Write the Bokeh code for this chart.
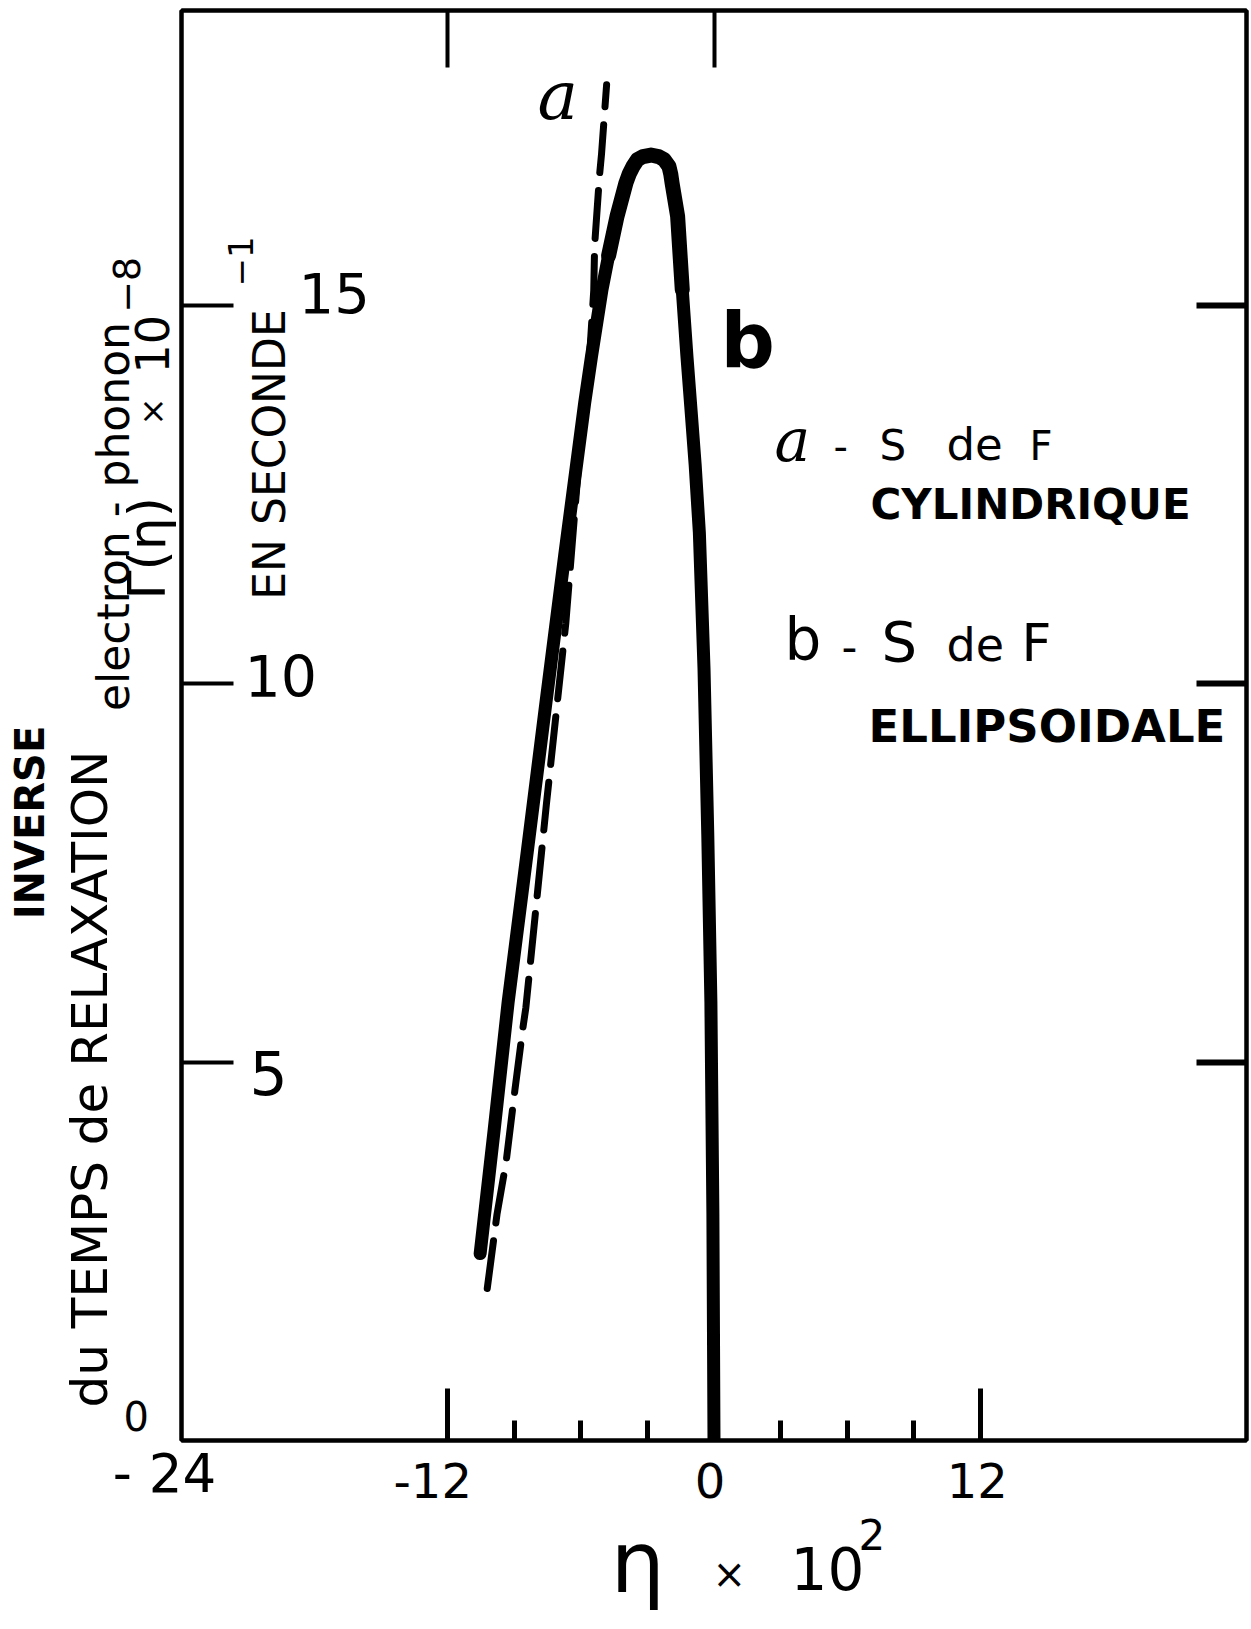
from math import pi
from bokeh.plotting import figure
from bokeh.models import Label, LinearAxis, FixedTicker, Range1d
from bokeh.layouts import row, column
from bokeh.embed import file_html
from bokeh.resources import INLINE

# ---------------- data ----------------
# curve b : S de F ellipsoidale (solid, thick)
eta_b = [-10.54, -9.91, -9.28, -8.43, -7.58, -6.73, -5.83, -5.52, -5.05, -4.75,
         -4.37, -3.97, -3.82, -3.65, -3.45, -3.20, -2.84, -2.50, -2.25, -2.03,
         -1.95, -1.89, -1.64, -1.43, -1.22, -1.03, -0.85, -0.66, -0.45, -0.28,
         -0.14, -0.05, 0.0]
gamma_b = [2.47, 4.10, 5.79, 7.75, 9.74, 11.70, 13.71, 14.33, 15.21, 15.66,
           16.18, 16.62, 16.74, 16.84, 16.93, 16.97, 16.99, 16.97, 16.93, 16.84,
           16.74, 16.62, 16.18, 15.21, 14.33, 13.60, 12.90, 12.00, 10.20, 8.00,
           5.80, 3.00, 0.0]
# curve a : S de F cylindrique (dashed)
eta_a = [-10.22, -9.78, -9.37, -8.97, -8.61, -8.48, -7.55, -6.68, -6.14, -5.58,
         -5.42, -5.38, -5.16, -5.07, -4.84]
gamma_a = [2.01, 2.99, 3.68, 4.64, 5.46, 5.72, 8.42, 10.80, 12.76, 14.46,
           15.20, 15.80, 16.72, 17.00, 17.92]

x_major_ticks = [-12, 12]
x_minor_ticks = [-9, -6, -3, 3, 6, 9]
x_top_ticks = [-12, 0]
y_left_ticks = [5, 10, 15]
y_right_ticks = [5, 10, 15]
x_label_values = [-24, -12, 0, 12]
x_label_texts = ["- 24", "-12", "0", "12"]
y_label_values = [0, 5, 10, 15]
y_label_texts = ["0", "5", "10", "15"]

X_START, X_END = -24, 24
Y_START, Y_END = 0, 18.9

FONT = "DejaVu Sans"
MID = 0.38   # distance (in em) from the alphabetic baseline to the 'middle' anchor

# page geometry of the frame (page pixels)
FL, FR, FT, FB = 181, 1246, 10, 1440
KX = (FR - FL) / (X_END - X_START)
KY = (FB - FT) / (Y_END - Y_START)


def eta_of(X):
    return X_START + (X - FL) / KX


def gam_of(Y):
    return Y_START + (FB - Y) / KY


LEFT_W, MAIN_W, TOP_H, BOT_H = 178, 1072, 1444, 184

# ---------------- main figure ----------------
main = figure(width=MAIN_W, height=TOP_H, x_range=Range1d(X_START, X_END),
              y_range=Range1d(Y_START, Y_END), output_backend="svg",
              toolbar_location=None, min_border_left=FL - LEFT_W,
              min_border_right=LEFT_W + MAIN_W - FR, min_border_top=FT,
              min_border_bottom=TOP_H - FB)
main.xgrid.visible = False
main.ygrid.visible = False
main.background_fill_color = "white"
main.border_fill_color = "white"
main.outline_line_color = "black"
main.outline_line_width = 4


def style_axis(ax, major, tick_in, lw, minor=None, minor_in=0):
    ax.ticker = FixedTicker(ticks=major, minor_ticks=minor or [])
    ax.major_tick_in = tick_in
    ax.major_tick_out = 0
    ax.minor_tick_in = minor_in
    ax.minor_tick_out = 0
    ax.major_tick_line_width = lw
    ax.minor_tick_line_width = lw
    ax.major_tick_line_color = "black"
    ax.minor_tick_line_color = "black"
    ax.axis_line_width = 4
    ax.axis_line_color = "black"
    ax.major_label_text_color = None
    ax.major_label_text_font_size = "0px"
    ax.major_label_standoff = 0
    ax.axis_label = None


style_axis(main.xaxis[0], x_major_ticks, 52, 5, x_minor_ticks, 20)
style_axis(main.yaxis[0], [], 0, 4, y_left_ticks, 52)
top_ax = LinearAxis()
style_axis(top_ax, [], 0, 4, x_top_ticks, 57)
main.add_layout(top_ax, "above")
right_ax = LinearAxis()
style_axis(right_ax, [], 0, 6, y_right_ticks, 50)
main.add_layout(right_ax, "right")

main.line(eta_a, gamma_a, line_color="black", line_width=7, line_dash="48 18",
          line_cap="round", line_join="round")
main.line(eta_b, gamma_b, line_color="black", line_width=13,
          line_cap="round", line_join="round")
# the pen stroke is a little heavier over the top of the arch
main.line(eta_b[9:24], gamma_b[9:24], line_color="black", line_width=15,
          line_cap="round", line_join="round")


# ---------------- side strips for the texts outside the frame ----------------
def blank(width, height, xr, yr):
    f = figure(width=width, height=height, x_range=xr, y_range=yr,
               x_axis_type=None, y_axis_type=None, output_backend="svg",
               toolbar_location=None, min_border=0, min_border_left=0,
               min_border_right=0, min_border_top=0, min_border_bottom=0)
    f.outline_line_color = None
    f.background_fill_color = "white"
    f.border_fill_color = "white"
    return f


left = blank(LEFT_W, TOP_H, Range1d(0, LEFT_W), Range1d(gam_of(TOP_H), gam_of(0)))
bottom = blank(LEFT_W + MAIN_W, BOT_H,
               Range1d(eta_of(0), eta_of(LEFT_W + MAIN_W)),
               Range1d(TOP_H + BOT_H, TOP_H))

conv_main = lambda X, Y: (eta_of(X), gam_of(Y))
conv_left = lambda X, Y: (X, gam_of(Y))
conv_bottom = lambda X, Y: (eta_of(X), Y)


def put(fig, conv, text, X, Y, size, align="left", angle=0, font=FONT,
        style="normal", base=None):
    """Y is the visual middle; if base is given, Y is an alphabetic baseline."""
    if base:
        Y = Y - MID * size
    x, y = conv(X, Y)
    fig.add_layout(Label(x=x, y=y, x_units="data", y_units="data", text=text,
                         text_font=font, text_font_size=f"{size}px",
                         text_font_style=style, text_align=align,
                         text_baseline="middle", angle=angle,
                         text_color="black"))


# ---------------- tick labels ----------------
y_style = {0: (-55, 21, 40), 5: (68, -10, 60), 10: (63, 8, 57), 15: (117, 13, 56)}
for v, t in zip(y_label_values, y_label_texts):
    dx, dy, fs = y_style[v]
    on_left = (v == Y_START)
    fig = left if on_left else main
    fig.add_layout(Label(x=LEFT_W if on_left else X_START, y=v, x_units="data",
                         y_units="data", x_offset=dx, y_offset=dy, text=t,
                         text_font=FONT, text_font_size=f"{fs}px",
                         text_align="left", text_baseline="middle",
                         text_color="black"))

x_style = {-24: (-17, 1473, 53), -12: (-15, 1480, 48), 0: (-4, 1480, 48), 12: (-3, 1480, 48)}
for v, t in zip(x_label_values, x_label_texts):
    dx, Y, fs = x_style[v]
    bottom.add_layout(Label(x=v, y=Y, x_units="data", y_units="data", x_offset=dx,
                            text=t, text_font=FONT, text_font_size=f"{fs}px",
                            text_align="center", text_baseline="middle",
                            text_color="black"))

R = pi / 2
# y axis title (rotated, in the left strip)
put(left, conv_left, "INVERSE", 29, 820, 40, "center", R, style="bold")
put(left, conv_left, "du TEMPS de RELAXATION", 89, 1079, 50, "center", R)
put(left, conv_left, "electron - phonon", 113, 511, 44, "center", R)
put(left, conv_left, "Γ(η)", 146, 543, 52, "center", R)
put(left, conv_left, "×", 151, 405, 34, "center", R)
put(left, conv_left, "10", 151, 337, 46, "center", R)
put(left, conv_left, "−8", 126, 277, 38, "center", R)
# inside the frame
put(main, conv_main, "EN SECONDE", 269, 454, 44, "center", R)
put(main, conv_main, "−1", 240, 261, 34, "center", R)

# x axis title (bottom strip)
put(bottom, conv_bottom, "η", 610, 1594, 86, base=True)
put(bottom, conv_bottom, "×", 712, 1573, 40)
put(bottom, conv_bottom, "10", 790, 1568, 58)
put(bottom, conv_bottom, "2", 858, 1534, 42)

# curve labels
put(main, conv_main, "a", 537, 121, 68, font="DejaVu Serif", style="italic", base=True)
put(main, conv_main, "b", 720, 369, 76, style="bold", base=True)

# legend
put(main, conv_main, "a", 774, 462, 60, font="DejaVu Serif", style="italic", base=True)
put(main, conv_main, "-", 833, 461, 40, base=True)
put(main, conv_main, "S", 879, 461, 42, base=True)
put(main, conv_main, "de", 946, 461, 45, base=True)
put(main, conv_main, "F", 1029, 461, 40, base=True)
put(main, conv_main, "CYLINDRIQUE", 870, 520, 42, style="bold", base=True)
put(main, conv_main, "b", 784, 662, 58, base=True)
put(main, conv_main, "-", 841, 662, 44, base=True)
put(main, conv_main, "S", 881, 662, 56, base=True)
put(main, conv_main, "de", 946, 662, 46, base=True)
put(main, conv_main, "F", 1021, 662, 52, base=True)
put(main, conv_main, "ELLIPSOIDALE", 868, 743, 45, style="bold", base=True)

layout = column(row(left, main, spacing=0), bottom, spacing=0)
open("out.html", "w").write(file_html(layout, INLINE))
